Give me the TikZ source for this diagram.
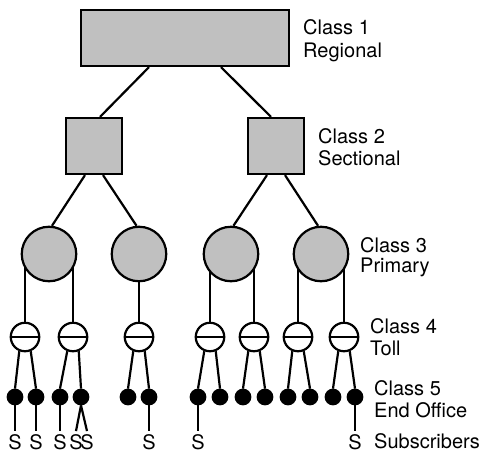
\documentclass[tikz,border=0pt]{standalone}
\usepackage{fontspec}
\setmainfont{TeX Gyre Heros}
\pgfdeclarelayer{background}
\pgfsetlayers{background,main}
\definecolor{officegray}{RGB}{192,192,192}
\begin{document}
\begin{tikzpicture}[x=1pt,y=-1pt,
  every node/.style={inner sep=0pt},
  link/.style={line width=2.2pt},
  regional/.style={draw,line width=2.2pt,fill=officegray,rectangle,minimum width=208pt,minimum height=56pt},
  sectional/.style={draw,line width=2.2pt,fill=officegray,rectangle,minimum size=56pt},
  primary/.style={draw,line width=2.2pt,fill=officegray,circle,minimum size=54.5pt},
  toll/.style={draw,line width=2.2pt,fill=white,circle,minimum size=28.5pt,
    path picture={\draw[line width=2.2pt] (path picture bounding box.west) -- (path picture bounding box.east);}},
  endoffice/.style={draw,line width=2.2pt,fill=black,circle,minimum size=14.5pt},
  sub/.style={font=\fontsize{20}{23}\selectfont,anchor=base,inner sep=2pt,outer sep=1pt},
  classlabel/.style={font=\fontsize{20}{23}\selectfont,anchor=base west}]
\useasboundingbox (0,0) rectangle (482,453);

% Class 1 and Class 2
\node[regional] (r1) at (185,38) {};
\node[sectional] (c2a) at (94,146) {};
\node[sectional] (c2b) at (276,146) {};

% Class 3
\node[primary] (c3a) at (49,254) {};
\node[primary] (c3b) at (139,254) {};
\node[primary] (c3c) at (231,254) {};
\node[primary] (c3d) at (321,254) {};

% Class 4
\node[toll] (t1) at (25,337) {};
\node[toll] (t2) at (73,337) {};
\node[toll] (t3) at (139,337) {};
\node[toll] (t4) at (210,337) {};
\node[toll] (t5) at (254,337) {};
\node[toll] (t6) at (298,337) {};
\node[toll] (t7) at (344,337) {};

% Class 5
\foreach \n/\x in {1/15,2/36,3/60,4/81,5/128,6/149,7/198,8/220,9/243,10/265,11/288,12/310,13/333,14/355}
  \node[endoffice] (d\n) at (\x,397) {};

% Subscribers
\node[sub] (s1) at (15,449) {S};
\node[sub] (s2) at (36,449) {S};
\node[sub] (s3) at (60,449) {S};
\node[sub] (s4a) at (76,449) {S};
\node[sub] (s4b) at (87,449) {S};
\node[sub] (s6) at (149,449) {S};
\node[sub] (s7) at (198,449) {S};
\node[sub] (s14) at (355,449) {S};

% Level labels
\node[classlabel] (l1a) at (303,34) {Class 1};
\node[classlabel] (l1b) at (303,57) {Regional};
\node[classlabel] (l2a) at (318,143) {Class 2};
\node[classlabel] (l2b) at (318,165) {Sectional};
\node[classlabel] (l3a) at (360,252) {Class 3};
\node[classlabel] (l3b) at (360,272) {Primary};
\node[classlabel] (l4a) at (370,333) {Class 4};
\node[classlabel] (l4b) at (370,355) {Toll};
\node[classlabel] (l5a) at (374,395) {Class 5};
\node[classlabel] (l5b) at (374,417) {End Office};
\node[classlabel] (l6) at (374,448) {Subscribers};

% Trunks between levels
\draw[link] ([xshift=-36pt]r1.south) -- ([xshift=6pt]c2a.north);
\draw[link] ([xshift=36pt]r1.south) -- ([xshift=-5pt]c2b.north);
\draw[link] ([xshift=-9pt]c2a.south) -- (c3a.84);
\draw[link] ([xshift=9pt]c2a.south) -- (c3b.95);
\draw[link] ([xshift=-9pt]c2b.south) -- (c3c.85);
\draw[link] ([xshift=9pt]c2b.south) -- (c3d.96);

\begin{pgfonlayer}{background}
  \foreach \t/\c in {t1/c3a,t2/c3a,t3/c3b,t4/c3c,t5/c3c,t6/c3d,t7/c3d}
    \draw[link] (\t.north) -- (\t.north |- \c.center);
\end{pgfonlayer}

\foreach \t/\a/\b in {t1/1/2,t2/3/4,t3/5/6,t4/7/8,t5/9/10,t6/11/12,t7/13/14}{
  \draw[link] (\t.-112) -- (d\a.north);
  \draw[link] (\t.-68) -- (d\b.north);
}

% Subscriber loops
\foreach \d/\s in {d1/s1,d2/s2,d3/s3,d4/s4a,d4/s4b,d6/s6,d7/s7,d14/s14}
  \draw[link] (\d.south) -- (\s.north);
\end{tikzpicture}
\end{document}
